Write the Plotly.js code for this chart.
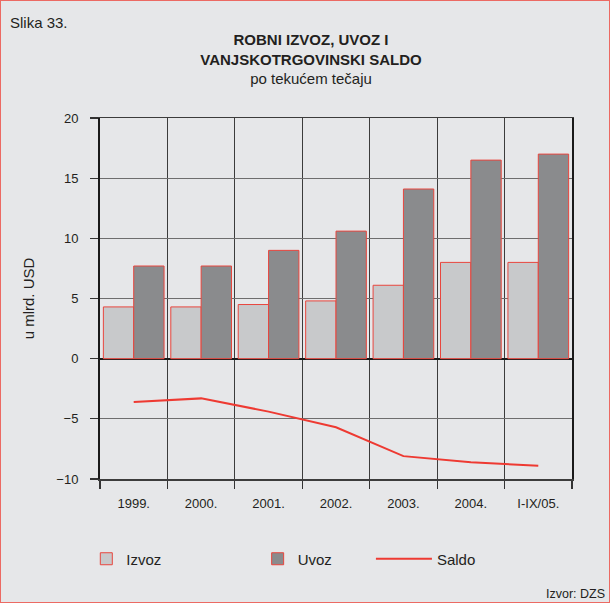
<!DOCTYPE html>
<html>
<head>
<meta charset="utf-8">
<script src="https://cdn.plot.ly/plotly-3.0.1.min.js"></script>
<style>
html,body{margin:0;padding:0;background:#e6e7e9;}
#wrap{position:relative;width:610px;height:603px;}
#chart{width:610px;height:603px;}
#frame{position:absolute;left:0;top:0;width:608px;height:601px;border:1px solid #ec6a63;pointer-events:none;}
</style>
</head>
<body>
<div id="wrap"><div id="chart"></div><div id="frame"></div></div>
<script>
const categories = ["1999.", "2000.", "2001.", "2002.", "2003.", "2004.", "I-IX/05."];
const izvoz = [4.3, 4.3, 4.5, 4.8, 6.1, 8.0, 8.0];
const uvoz = [7.7, 7.7, 9.0, 10.6, 14.1, 16.5, 17.0];
const saldo = [-3.6, -3.3, -4.4, -5.7, -8.1, -8.6, -8.9];
const yTicks = [-10, -5, 0, 5, 10, 15, 20];

const FONT = "Liberation Sans, Arial, sans-serif";
const TXT = "#231f20";
const RED = "#e8463e";

const traces = [
  {type: "bar", name: "Izvoz", x: categories, y: izvoz,
   marker: {color: "#c8c9cb", line: {color: RED, width: 1}}, legend: "legend"},
  {type: "bar", name: "Uvoz", x: categories, y: uvoz,
   marker: {color: "#8a8b8d", line: {color: RED, width: 1}}, legend: "legend2"},
  {type: "scatter", mode: "lines", name: "Saldo", x: categories, y: saldo,
   line: {color: "#ee3a32", width: 2}, legend: "legend3"}
];

const legBase = {orientation: "h", bgcolor: "rgba(0,0,0,0)", borderwidth: 0,
  font: {family: FONT, size: 15, color: TXT}, yanchor: "middle", xanchor: "left", y: -0.2216};

const layout = {
  width: 610, height: 603,
  margin: {l: 100, r: 38, t: 118, b: 124},
  paper_bgcolor: "#e6e7e9",
  plot_bgcolor: "#e6e7e9",
  font: {family: FONT, color: TXT, size: 13},
  barmode: "group",
  bargap: 0.1,
  bargroupgap: 0,
  title: {
    text: "<b>ROBNI IZVOZ, UVOZ I</b><br><b>VANJSKOTRGOVINSKI SALDO</b><br>po tekućem tečaju",
    font: {family: FONT, size: 15, color: TXT},
    x: 311 / 610, xref: "container", xanchor: "center",
    y: 1 - 45 / 603, yref: "container", yanchor: "top"
  },
  xaxis: {
    type: "category",
    range: [-0.5, 6.5],
    tickson: "boundaries",
    ticks: "outside", ticklen: 8, tickwidth: 1.2, tickcolor: "#333",
    showgrid: true, gridcolor: "#3c3c3c", gridwidth: 1.2,
    showline: true, linecolor: "#3c3c3c", linewidth: 1.5, mirror: true,
    tickfont: {family: FONT, size: 13, color: TXT},
    ticklabelstandoff: 12,
    fixedrange: true
  },
  yaxis: {
    range: [-10, 20],
    tickvals: yTicks,
    ticktext: yTicks.map(v => v < 0 ? "\u2212" + Math.abs(v) : String(v)),
    ticks: "outside", ticklen: 8, tickwidth: 1.2, tickcolor: "#333",
    showgrid: true, gridcolor: "#6e6e6e", gridwidth: 1.2,
    zeroline: true, zerolinecolor: "#1a1a1a", zerolinewidth: 2,
    showline: true, linecolor: "#1a1a1a", linewidth: 2, mirror: true,
    tickfont: {family: FONT, size: 13, color: TXT},
    ticklabelstandoff: 9,
    title: {text: "u mlrd. USD", font: {family: FONT, size: 15, color: TXT}, standoff: 18},
    automargin: false,
    fixedrange: true
  },
  showlegend: true,
  legend: Object.assign({}, legBase, {x: -0.029, itemwidth: 30}),
  legend2: Object.assign({}, legBase, {x: 0.334, itemwidth: 30}),
  legend3: Object.assign({}, legBase, {x: 0.574, itemwidth: 56}),
  annotations: [
    {text: "Slika 33.", xref: "paper", yref: "paper", x: (8 - 100) / 472, y: (479 - 22) / 361,
     xanchor: "left", yanchor: "middle", showarrow: false, font: {family: FONT, size: 15, color: TXT}},
    {text: "Izvor: DZS", xref: "paper", yref: "paper", x: (607 - 100) / 472, y: (479 - 594) / 361,
     xanchor: "right", yanchor: "middle", showarrow: false, font: {family: FONT, size: 12.5, color: TXT}}
  ]
};

Plotly.newPlot("chart", traces, layout, {displayModeBar: false, staticPlot: true});
</script>
</body>
</html>
